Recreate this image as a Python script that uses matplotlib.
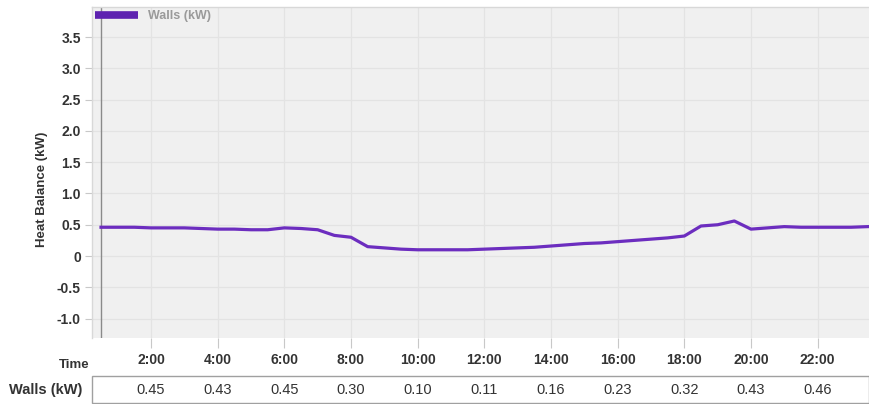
import matplotlib
matplotlib.use("Agg")
import matplotlib.pyplot as plt
from matplotlib.patches import Rectangle
from matplotlib.lines import Line2D
import matplotlib.transforms as mtransforms

plt.rcParams['font.family'] = ['Liberation Sans', 'DejaVu Sans']

# Half-hourly heat balance through walls (kW)
hours = [0.5, 1.0, 1.5, 2.0, 2.5, 3.0, 3.5, 4.0, 4.5, 5.0, 5.5, 6.0,
         6.5, 7.0, 7.5, 8.0, 8.5, 9.0, 9.5, 10.0, 10.5, 11.0, 11.5, 12.0,
         12.5, 13.0, 13.5, 14.0, 14.5, 15.0, 15.5, 16.0, 16.5, 17.0, 17.5, 18.0,
         18.5, 19.0, 19.5, 20.0, 20.5, 21.0, 21.5, 22.0, 22.5, 23.0, 23.5]
walls_kw = [0.46, 0.46, 0.46, 0.45, 0.45, 0.45, 0.44, 0.43, 0.43, 0.42, 0.42, 0.45,
            0.44, 0.42, 0.33, 0.30, 0.15, 0.13, 0.11, 0.10, 0.10, 0.10, 0.10, 0.11,
            0.12, 0.13, 0.14, 0.16, 0.18, 0.20, 0.21, 0.23, 0.25, 0.27, 0.29, 0.32,
            0.48, 0.50, 0.56, 0.43, 0.45, 0.47, 0.46, 0.46, 0.46, 0.46, 0.47]

tick_hours = [2, 4, 6, 8, 10, 12, 14, 16, 18, 20, 22]
tick_labels = ["2:00", "4:00", "6:00", "8:00", "10:00", "12:00",
               "14:00", "16:00", "18:00", "20:00", "22:00"]
y_ticks = [-1.0, -0.5, 0, 0.5, 1.0, 1.5, 2.0, 2.5, 3.0, 3.5]
y_tick_labels = ["-1.0", "-0.5", "0", "0.5", "1.0", "1.5", "2.0", "2.5", "3.0", "3.5"]

series_name = "Walls (kW)"
line_color = "#6c2dbf"
text_color = "#333333"

W, H = 870, 404
fig = plt.figure(figsize=(W / 100, H / 100), dpi=100)
fig.patch.set_facecolor("white")

left, right, top, bottom = 92, 870, 7, 338
ax = fig.add_axes([left / W, 1 - bottom / H, (right - left) / W, (bottom - top) / H])
ax.set_facecolor("#f0f0f0")

ax.plot(hours, walls_kw, color=line_color, lw=2.3, solid_joinstyle="round", zorder=3)
ax.axvline(0.5, color="#8a8a8a", lw=1.0, zorder=2)

ax.set_xlim(0.23, 23.57)
ax.set_ylim(-1.31, 3.98)

ax.set_yticks(y_ticks)
ax.set_yticklabels(y_tick_labels)
ax.set_xticks(tick_hours)
ax.set_xticklabels(tick_labels)

ax.grid(True, color="#e3e3e3", lw=0.9, zorder=0)
ax.set_axisbelow(True)

ax.tick_params(axis="y", length=5, width=0.8, color="#c8c8c8", pad=3,
               labelsize=10, labelcolor=text_color)
ax.tick_params(axis="x", length=7, width=0.8, color="#c8c8c8", pad=4,
               labelsize=10, labelcolor=text_color)
for lbl in ax.get_xticklabels() + ax.get_yticklabels():
    lbl.set_fontweight("bold")

for side in ["right", "bottom"]:
    ax.spines[side].set_visible(False)
for side in ["top", "left"]:
    ax.spines[side].set_color("#d8d8d8")
    ax.spines[side].set_linewidth(1.0)

ax.set_ylabel("Heat Balance (kW)", fontsize=9.5, fontweight="bold",
              color=text_color)
ax.yaxis.set_label_coords(-0.057, 0.45)

# Legend swatch and name
handle = Line2D([0], [0], color="#5e22b0", lw=5.5, solid_capstyle="butt")
leg = ax.legend([handle], [series_name], loc="upper left", frameon=False,
                handlelength=3.4, handletextpad=0.8, borderaxespad=0.1,
                borderpad=0.15, fontsize=9)
for t in leg.get_texts():
    t.set_color("#9a9a9a")
    t.set_fontweight("bold")

# Data table under the chart
fig.text(90 / W, 1 - 365 / H, "Time", ha="right", va="center",
         fontsize=9.5, fontweight="bold", color=text_color)
fig.text(82 / W, 1 - 390 / H, series_name, ha="right", va="center",
         fontsize=10.5, fontweight="bold", color=text_color)

box = Rectangle((left / W, 1 - 403 / H), (right - 1 - left) / W, (403 - 376) / H,
                transform=fig.transFigure, facecolor="white",
                edgecolor="#a0a0a0", lw=1.0)
fig.patches.append(box)

trans = mtransforms.blended_transform_factory(ax.transData, fig.transFigure)
for h in tick_hours:
    v = walls_kw[hours.index(float(h))]
    fig.text(h, 1 - 390 / H, f"{v:.2f}", transform=trans, ha="center",
             va="center", fontsize=10.5, color=text_color)

fig.savefig("out.png", dpi=100)
